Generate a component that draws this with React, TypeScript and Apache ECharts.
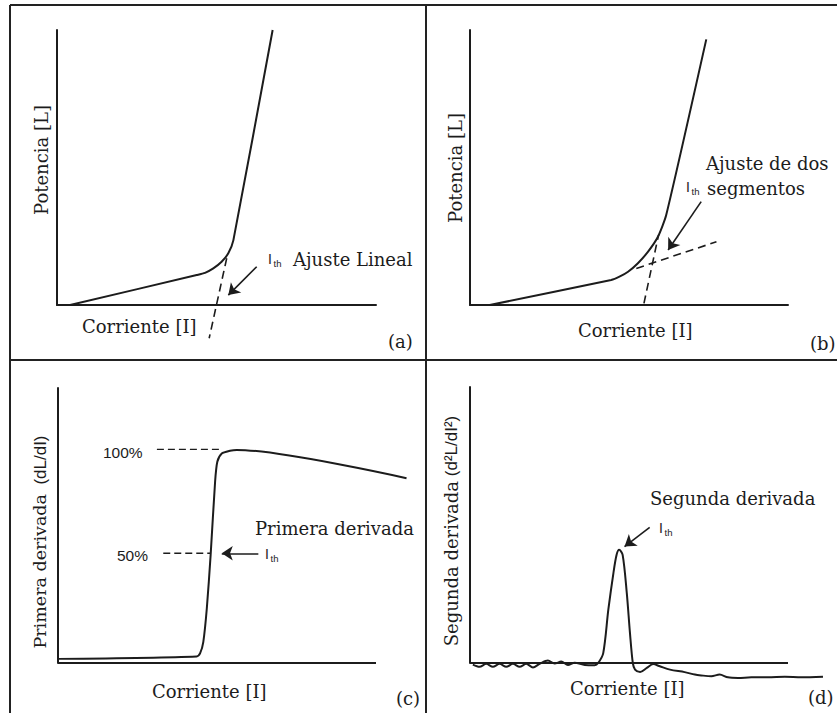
import React, { useEffect, useRef } from "react";
import * as echarts from "echarts";

// Panel (a): Potencia vs Corriente, linear fit
const curveA: number[][] = [[4.1, 0], [43.8, 10.9], [46.4, 11.7], [49.0, 13.3], [51.6, 15.7], [53.7, 18.8], [55.3, 23.6], [67.6, 100]];
const fitA: number[][] = [[53.2, 17.0], [47.7, -12.1]];
const arrowA: number[][] = [[62.6, 13.9], [53.7, 3.6]];

// Panel (b): two-segment fit
const curveB: number[][] = [[6.2, 0], [44.4, 9.1], [47.0, 10.3], [49.7, 12.1], [52.8, 15.2], [56.0, 19.4], [59.1, 24.8], [61.7, 32.7], [74.3, 96.6]];
const fitB1: number[][] = [[54.7, 0.6], [59.3, 25.5]];
const fitB2: number[][] = [[52.3, 13.3], [77.5, 23.0]];
const arrowB: number[][] = [[72.7, 37.6], [62.3, 20.0]];

// Panel (c): first derivative
const curveC: number[][] = [[0.1, 1.5], [43.6, 2.4], [44.7, 3.6], [45.7, 7.7], [46.8, 19.9], [48.0, 39.3], [49.4, 65.9], [50.1, 73.2], [51.5, 76.2], [54.1, 77.2], [56.2, 77.5], [109.6, 67.2]];
const level100: number[][] = [[31.1, 77.7], [51.5, 77.7]];
const level50: number[][] = [[33.1, 39.9], [47.8, 39.9]];
const arrowC: number[][] = [[63.0, 39.9], [51.5, 39.9]];

// Panel (d): second derivative
const curveD: number[][] = [
  [0.9, -0.6], [3.0, -1.4], [5.1, -0.3], [7.2, -1.4], [9.3, -0.3], [11.4, -1.4], [13.5, -0.3], [15.6, -1.4], [17.7, -0.3],
  [19.8, -1.6], [21.9, -0.3], [24.5, 0.9], [26.6, -0.2], [28.7, 0.5], [30.8, -0.7], [32.9, 0.1], [36.1, -0.7], [39.2, -0.8],
  [40.3, 0], [41.9, 3.6], [43.5, 19.3], [45.1, 32.6], [46.1, 39.2], [46.9, 41.0], [48.0, 39.2], [49.3, 25.4], [50.3, 10.9],
  [51.2, 0], [51.9, -2.4], [53.5, -3.3], [55.6, -1.8], [57.6, -0.4], [59.7, -1.2], [62.9, -2.4],
  [67.5, -3.3], [70.7, -4.2], [72.7, -4.5], [75.9, -4.8], [78.5, -4.2], [81.1, -5.2], [84.3, -5.4], [88.5, -5.2],
  [93.7, -5.2], [99.0, -5.0], [104.2, -5.2], [111.0, -5.0],
];
const arrowD: number[][] = [[56.5, 49.1], [48.6, 42.2]];

// Horizontal axis span (current axis drawn from 0 to 100 in panels c and d)
const xAxisSpan: number[][] = [[0, 0], [100, 0]];

const INK = "#1c1c1c";
const SERIF = "'DejaVu Serif', 'Liberation Serif', serif";
const SANS = "'Liberation Sans', Arial, sans-serif";

function axisCfg(i: number, max: number, showLine: boolean) {
  return {
    type: "value" as const,
    gridIndex: i,
    min: 0,
    max,
    axisLine: { show: showLine, onZero: false, lineStyle: { color: INK, width: 2 } },
    axisTick: { show: false },
    axisLabel: { show: false },
    splitLine: { show: false },
  };
}

function curve(i: number, data: number[][], smooth: number | boolean) {
  return {
    type: "line",
    xAxisIndex: i,
    yAxisIndex: i,
    data,
    smooth,
    symbol: "none",
    clip: false,
    lineStyle: { color: INK, width: 2 },
    z: 3,
  };
}

function dashed(i: number, data: number[][], dash: number[], width = 1.6) {
  return {
    type: "line",
    xAxisIndex: i,
    yAxisIndex: i,
    data,
    symbol: "none",
    clip: false,
    lineStyle: { color: INK, width, type: dash },
    z: 2,
  };
}

function arrow(i: number, pts: number[][]) {
  return {
    type: "lines",
    coordinateSystem: "cartesian2d",
    xAxisIndex: i,
    yAxisIndex: i,
    clip: false,
    symbol: ["none", "arrow"],
    symbolSize: [0, 11],
    lineStyle: { color: INK, width: 1.6, opacity: 1, curveness: 0 },
    itemStyle: { color: INK },
    data: [{ coords: pts }],
    z: 4,
  };
}

function txt(x: number, y: number, text: string, size: number, family: string, align = "left", rotation = 0) {
  return {
    type: "text",
    x,
    y,
    rotation,
    style: { text, fontSize: size, fontFamily: family, fill: INK, align, verticalAlign: "middle" },
    z: 10,
  };
}

function ith(x: number, y: number) {
  return [txt(x, y, "I", 14, SANS), txt(x + 5.5, y + 4.5, "th", 9.5, SANS)];
}

function rotLabel(x: number, y: number, serifPart: string, sansPart: string, serifSize: number, sansSize: number) {
  return {
    type: "text",
    x,
    y,
    rotation: Math.PI / 2,
    style: {
      text: sansPart ? `{s|${serifPart}}{a|${sansPart}}` : `{s|${serifPart}}`,
      align: "center",
      verticalAlign: "middle",
      fill: INK,
      rich: {
        s: { fontSize: serifSize, fontFamily: SERIF, fill: INK },
        a: { fontSize: sansSize, fontFamily: SANS, fill: INK },
      },
    },
    z: 10,
  };
}

function frameLine(x1: number, y1: number, x2: number, y2: number) {
  return { type: "line", shape: { x1, y1, x2, y2 }, style: { stroke: "#222", lineWidth: 2 }, z: 1 };
}

export default function App() {
  const ref = useRef<HTMLDivElement>(null);
  useEffect(() => {
    document.body.style.margin = "0";
    const chart = echarts.init(ref.current!, undefined, { renderer: "svg" });
    const grids = [
      { left: 57, top: 30, width: 319, height: 275 },
      { left: 470, top: 30, width: 318, height: 275 },
      { left: 58, top: 388, width: 318 * 1.12, height: 275 },
      { left: 470, top: 387, width: 318 * 1.12, height: 276 },
    ];
    const option: any = {
      animation: false,
      backgroundColor: "#ffffff",
      grid: grids,
      xAxis: [axisCfg(0, 100, true), axisCfg(1, 100, true), axisCfg(2, 112, false), axisCfg(3, 112, false)],
      yAxis: [0, 1, 2, 3].map((i) => axisCfg(i, 100, true)),
      series: [
        curve(0, curveA, 0.2),
        dashed(0, fitA, [8, 5]),
        arrow(0, arrowA),
        curve(1, curveB, 0.2),
        dashed(1, fitB1, [8, 5]),
        dashed(1, fitB2, [8, 5]),
        arrow(1, arrowB),
        dashed(2, xAxisSpan, [1, 0], 2),
        curve(2, curveC, 0.25),
        dashed(2, level100, [7, 4], 1.4),
        dashed(2, level50, [7, 4], 1.4),
        arrow(2, arrowC),
        dashed(3, xAxisSpan, [1, 0], 2),
        curve(3, curveD, 0.3),
        arrow(3, arrowD),
      ],
      graphic: [
        frameLine(10, 5, 837, 5),
        frameLine(10, 5, 10, 713),
        frameLine(426, 5, 426, 713),
        frameLine(10, 360, 837, 360),
        // (a)
        rotLabel(41, 160, "Potencia [L]", "", 18, 16),
        txt(82, 326, "Corriente [I]", 18, SERIF),
        ...ith(268, 259),
        txt(293, 259, "Ajuste Lineal", 18, SERIF),
        txt(388, 341, "(a)", 18, SERIF),
        // (b)
        rotLabel(455, 168, "Potencia [L]", "", 18, 16),
        txt(578, 330, "Corriente [I]", 18, SERIF),
        txt(706, 163, "Ajuste de dos", 18, SERIF),
        ...ith(686, 187),
        txt(707, 188, "segmentos", 18, SERIF),
        txt(810, 343, "(b)", 18, SERIF),
        // (c)
        rotLabel(40, 542, "Primera derivada", "  (dL/dI)", 17.5, 17),
        txt(103, 452, "100%", 15.5, SANS),
        txt(117, 555, "50%", 15.5, SANS),
        ...ith(265, 554),
        txt(255, 528, "Primera derivada", 18, SERIF),
        txt(152, 691, "Corriente [I]", 18, SERIF),
        txt(396, 698, "(c)", 18, SERIF),
        // (d)
        rotLabel(451, 531, "Segunda derivada", " (d²L/dI²)", 18, 17),
        txt(650, 498, "Segunda derivada", 18, SERIF),
        ...ith(659, 528),
        txt(570, 688, "Corriente [I]", 18, SERIF),
        txt(808, 697, "(d)", 18, SERIF),
      ],
    };
    chart.setOption(option);
    return () => chart.dispose();
  }, []);
  return <div ref={ref} style={{ position: "absolute", left: 0, top: 0, width: 837, height: 713 }} />;
}
